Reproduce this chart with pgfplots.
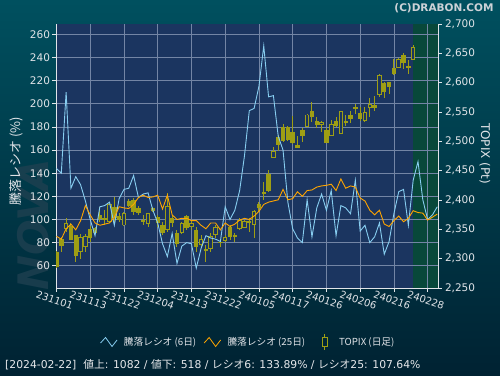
\documentclass[border=0pt]{standalone}
\usepackage{fontspec}
\setmainfont{DejaVu Sans}
\newfontfamily\cjk{Noto Sans CJK JP}
\usepackage{pgfplots}
\usepackage{pgfplotstable}
\pgfplotsset{compat=1.18}
\definecolor{navybg}{RGB}{27,53,96}
\definecolor{greenbg}{RGB}{8,72,58}
\definecolor{gridc}{RGB}{115,133,165}
\definecolor{ticktext}{RGB}{225,228,232}
\definecolor{sixc}{RGB}{135,205,240}
\definecolor{twfc}{RGB}{255,165,0}
\definecolor{candle}{RGB}{158,158,20}
\definecolor{outtop}{RGB}{0,80,95}
\definecolor{outbot}{RGB}{0,34,50}
\definecolor{wmark}{RGB}{30,64,80}

\pgfplotstableread{
d top bot hi lo
0 2312.0 2285.2 2313 2284
1 2333.0 2321.6 2337.5 2312
3 2356.3 2331.8 2360.2 2331.8
4 2340.4 2305.1 2340.4 2294.9
7 2350.6 2335.2 2355.7 2329
8 2351.7 2343.2 2354.6 2342
9 2374.5 2367.1 2388.7 2363.1
10 2368.8 2365.9 2383 2357.4
12 2388.7 2368.8 2404.6 2360.2
13 2372.7 2365.9 2377.3 2363.1
15 2398.3 2390.4 2401 2388.7
16 2400 2380.1 2402.9 2374.5
17 2385.8 2377.3 2389.8 2374.5
18 2365.9 2363.1 2374.5 2357.4
20 2387 2381.8 2388.7 2380.1
21 2371 2361.4 2374.5 2354.6
22 2357.4 2343.2 2363.1 2340.4
24 2368.8 2360.2 2374.5 2354.6
25 2343.2 2324.4 2348.9 2319.3
27 2372.7 2351.7 2374.5 2348.9
29 2348.9 2320.5 2354.6 2312
31 2316.5 2314.2 2323.3 2294.9
34 2329 2326.2 2331.8 2320.5
36 2354.6 2337.5 2357.4 2331.8
37 2340.4 2336.4 2343.2 2329
40 2364.2 2361.9 2368.8 2346
42 2393.2 2387 2397.2 2380.1
43 2413 2410.2 2431.3 2400
44 2444.3 2415.9 2451.2 2414.2
46 2506.8 2493.7 2510.8 2484.1
47 2523.8 2501.1 2529.5 2499.4
48 2525 2502.3 2526.1 2501.1
49 2516.5 2496.6 2543.2 2495.4
50 2493.7 2489.2 2509.1 2488.1
51 2519.3 2509.6 2522.1 2499.4
53 2551.7 2542 2567.6 2533.5
54 2534.6 2527.8 2540.9 2522.1
56 2519.3 2497.7 2522.1 2496.6
58 2534.6 2526.1 2540.9 2525
60 2534.6 2531.8 2544.9 2526.1
61 2544.9 2538 2551.7 2530.7
62 2558.5 2555.7 2563 2546
63 2547.7 2538 2558 2535.2
66 2561.9 2556.8 2577.3 2552.3
68 2599.4 2584.6 2600.5 2573.3
69 2600.5 2592 2601.7 2580.7
70 2624.4 2614.2 2640.3 2613
72 2647.1 2633 2650 2623.3
73 2628.4 2625.5 2638.6 2614.2
}\filledtab

\pgfplotstableread{
d top bot hi lo
2 2360.2 2350.6 2368.8 2346
5 2336.4 2312 2342 2299.5
6 2337.5 2320.5 2342 2312
11 2391.5 2363.1 2394.3 2360.2
14 2377.3 2357.4 2380.1 2355.7
19 2376.2 2360.2 2378.4 2354.6
23 2388.7 2348.9 2411.4 2346
26 2360.2 2344.3 2363.1 2342
28 2360.2 2354.6 2366 2348.9
30 2333.5 2323.3 2340.4 2320.5
32 2337.5 2317.6 2343.2 2312
33 2352.9 2342 2357.4 2334.7
35 2336.4 2330.7 2340.4 2329
38 2365.9 2350.6 2368.8 2348.9
39 2364.2 2352.9 2366 2351.7
41 2380.1 2358.5 2383 2334.7
45 2483.5 2472.7 2490.9 2471
52 2544.9 2526.1 2546.6 2523.8
55 2532.9 2528.9 2534.6 2515.3
57 2528.9 2509.6 2536.3 2509.6
59 2551.7 2513.6 2551.7 2513.6
64 2549.4 2535.2 2558 2533.5
65 2563 2557.4 2573.3 2542
67 2613 2580.1 2614.7 2576.1
71 2639.8 2625.5 2641.5 2624.4
74 2660.2 2639.8 2664.2 2638.6
}\hollowtab

\pgfplotstableread{
d six tw
0 144 85.5
1 140 83
2 210 92
3 127 96
4 137 91
5 130 99
6 116 112
7 100 104
8 86 97
9 111 95
10 112 96
11 115 97
12 95 102
13 118 111
14 126 110
15 127 109.5
16 138 113
17 119 119
18 122 121
19 123 119
20 108 119.5
21 97 121
22 79 109
23 68 121
24 88 104
25 62 100
26 77 101
27 80 101
28 79 99
29 58 99
30 75 95
31 86 92
32 84 97
33 83 97
34 81 91
35 111 97
36 100 94
37 108 96
38 125 99.5
39 155 101
40 194 100
41 196 103
42 215 107
43 250 113
44 206 115
45 207 116
46 172 117
47 160 126
48 115 117
49 92 118
50 84 124
51 80 120
52 117 125
53 85 125.5
54 110 128
55 122 129
56 108 129.5
57 125 130.5
58 86 125
59 112 135
60 110 127
61 105 129
62 134 128
63 90 118.5
64 95 116
65 80 108
66 85 104
67 97 108
68 70 96
69 81 94
70 105 99
71 124 103
72 126 98
73 95 101
74 134 107.6
75 150 106
76 117 105.5
77 100 99.5
78 104 102
79 111 104.7
}\ratiotab

\pgfplotstableread{
x y
-0.1 268.9
79.15 268.9
}\fullband
\pgfplotstableread{
x y
74 268.9
79.15 268.9
}\greenband

\pgfplotsset{
  base/.style={scale only axis, width=382pt, height=264pt,
    at={(56pt,87pt)}, anchor=south west, xmin=-0.1, xmax=79.15},
  candlebar/.style={draw=none, mark=none, error bars/.cd, y dir=both, y explicit, error mark=none},
}

\begin{document}
\begin{tikzpicture}
\useasboundingbox (0pt,0pt) rectangle (500pt,375pt);
\shade[top color=outtop, bottom color=outbot] (0pt,0pt) rectangle (500pt,375pt);
\node[rotate=90, font=\bfseries\itshape\fontsize{42}{42}\selectfont, text=wmark, opacity=0.8] at (33pt,150pt) {NOVA};

% axis 0: plot background and green zone
\begin{axis}[base, ymin=40.8, ymax=268.9, hide axis]
\addplot[fill=navybg, draw=none] table {\fullband} \closedcycle;
\addplot[fill=greenbg, draw=none] table {\greenband} \closedcycle;
\end{axis}

% axis 1: grid, left and bottom ticks
\begin{axis}[base, ymin=40.8, ymax=268.9,
  axis x line*=bottom, axis y line*=left,
  axis line style={ticktext, line width=0.8pt},
  xtick={0,7,...,77},
  xticklabels={231101,231113,231122,231204,231213,231222,240105,240117,240126,240206,240216,240228},
  ytick={60,80,...,260},
  grid=major, major grid style={gridc, line width=0.6pt},
  tick style={ticktext, line width=0.7pt},
  tick align=outside, major tick length=3.5pt,
  /pgf/number format/assume math mode=true,
  yticklabel style={font=\fontsize{10.5}{12}\selectfont, text=ticktext, xshift=1pt},
  xticklabel style={font=\fontsize{10}{12}\selectfont, text=ticktext, rotate=-19, anchor=center, yshift=-8.5pt, xshift=1pt},
  ylabel={\cjk 騰落レシオ (\%)},
  ylabel style={at={(axis description cs:-0.105,0.48)}, anchor=center, font=\fontsize{13}{14}\selectfont, text=ticktext},
]
\end{axis}

% axis 2: TOPIX candles, right ticks
\begin{axis}[base, ymin=2250, ymax=2700,
  axis x line=none, axis y line*=right,
  axis line style={ticktext, line width=0.8pt},
  ytick={2250,2300,...,2700},
  tick style={ticktext, line width=0.7pt},
  tick align=outside, major tick length=3.5pt,
  /pgf/number format/assume math mode=true,
  /pgf/number format/1000 sep={,},
  yticklabel style={font=\fontsize{10.5}{12}\selectfont, text=ticktext},
  ylabel={TOPIX (Pt)},
  ylabel style={at={(axis description cs:1.123,0.509)}, rotate=180, anchor=center, font=\fontsize{12}{14}\selectfont, text=ticktext},
]
\addplot[candlebar, error bar style={draw=candle, line width=1pt}]
  table[x=d, y expr={(\thisrow{hi}+\thisrow{lo})/2}, y error expr={(\thisrow{hi}-\thisrow{lo})/2}] {\filledtab};
\addplot[candlebar, error bar style={draw=candle, line width=1pt}]
  table[x=d, y expr={(\thisrow{hi}+\thisrow{lo})/2}, y error expr={(\thisrow{hi}-\thisrow{lo})/2}] {\hollowtab};
\addplot[candlebar, error bar style={draw=candle, line width=4.4pt}]
  table[x=d, y expr={(\thisrow{top}+\thisrow{bot})/2}, y error expr={max((\thisrow{top}-\thisrow{bot})/2,0.9)}] {\filledtab};
\addplot[candlebar, error bar style={draw=candle, line width=4.6pt}]
  table[x=d, y expr={(\thisrow{top}+\thisrow{bot})/2}, y error expr={max((\thisrow{top}-\thisrow{bot})/2+0.85,0.9)}] {\hollowtab};
\addplot[candlebar, error bar style={draw=navybg, line width=2.6pt}]
  table[x=d, y expr={(\thisrow{top}+\thisrow{bot})/2}, y error expr={max((\thisrow{top}-\thisrow{bot})/2-0.85,0)}] {\hollowtab};
\end{axis}

% axis 3: ratio lines and legend
\begin{axis}[base, ymin=40.8, ymax=268.9, hide axis,
  legend columns=3,
  legend style={at={(0.115,-0.2045)}, anchor=west, draw=none, fill=none, inner sep=0pt,
    /tikz/every odd column/.append style={column sep=5pt},
    /tikz/every even column/.append style={column sep=6pt},
    nodes={inner sep=1.5pt, font=\cjk\fontsize{9.7}{11}\selectfont, text=ticktext}},
]
\addplot[sixc, line width=0.9pt, mark=none,
  legend image code/.code={\draw[sixc, line width=0.8pt] (0pt,-1pt) -- (5pt,4.5pt) -- (11.5pt,-4.5pt) -- (16.5pt,2pt);}]
  table[x=d, y=six] {\ratiotab};
\addlegendentry{騰落レシオ (6日)}
\addplot[twfc, line width=0.9pt, mark=none,
  legend image code/.code={\draw[twfc, line width=0.8pt] (0pt,-1pt) -- (5pt,4.5pt) -- (11.5pt,-4.5pt) -- (16.5pt,2pt);}]
  table[x=d, y=tw] {\ratiotab};
\addlegendentry{騰落レシオ (25日)}
\addlegendimage{legend image code/.code={\path (0pt,0pt); \draw[candle, line width=0.9pt] (12pt,-8pt) -- (12pt,-4pt) (12pt,4.5pt) -- (12pt,8pt); \draw[candle, line width=0.9pt] (9.2pt,-4.2pt) rectangle (14.8pt,4.5pt);}}
\addlegendentry{\ \ TOPIX (日足)}
\end{axis}

\node[anchor=east, font=\bfseries\fontsize{10.5}{12}\selectfont, text={rgb,255:red,205;green,210;blue,215}] at (497pt,367pt) {(C)DRABON.COM};
\node[anchor=west, inner sep=0pt, font=\fontsize{10.8}{13}\selectfont, text={rgb,255:red,230;green,232;blue,235}] at (5pt,10pt) {[2024-02-22]\ \ {\cjk 値上}: 1082 / {\cjk 値下}: 518 / {\cjk レシオ}6: 133.89\% / {\cjk レシオ}25: 107.64\%};
\end{tikzpicture}
\end{document}
